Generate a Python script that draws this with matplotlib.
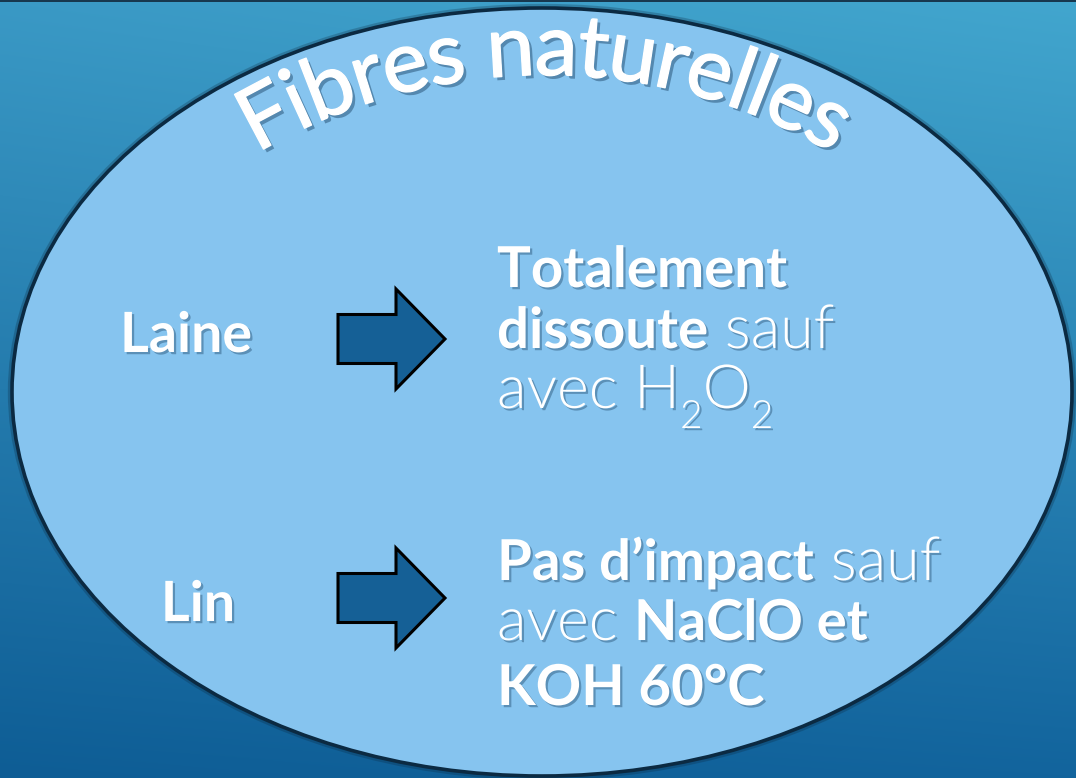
import numpy as np
import matplotlib
matplotlib.use("Agg")
import matplotlib.pyplot as plt
from matplotlib.patches import Ellipse, Polygon, Rectangle
import matplotlib.patheffects as pe
from matplotlib.font_manager import FontProperties, fontManager

# ---------------- content ----------------
title = "Fibres naturelles"
fibres = ["Laine", "Lin"]
laine_desc = [
    [("Totalement", "bold")],
    [("dissoute", "bold"), (" sauf", "light")],
    [("avec H", "light"), ("2", "sub"), ("O", "light"), ("2", "sub")],
]
lin_desc = [
    [("Pas d\u2019impact", "bold"), (" sauf", "light")],
    [("avec ", "light"), ("NaClO et", "bold")],
    [("KOH 60\u00b0C", "bold")],
]

# ---------------- setup ----------------
W, H, DPI = 1076, 778, 100
names = {f.name for f in fontManager.ttflist}
FAM = "Lato" if "Lato" in names else "DejaVu Sans"
def _w(f):
    try:
        return int(f.weight)
    except Exception:
        return 400
light_ws = sorted({_w(f) for f in fontManager.ttflist if f.name == FAM})
LIGHT = 300 if 300 in light_ws else min([w for w in light_ws if w >= 200] or [400])

fig = plt.figure(figsize=(W / DPI, H / DPI), dpi=DPI)
ax = fig.add_axes([0, 0, 1, 1])
ax.set_xlim(0, W)
ax.set_ylim(H, 0)
ax.axis("off")
renderer = fig.canvas.get_renderer()

def fprop(style, size):
    if style == "bold":
        return FontProperties(family=FAM, weight="bold", size=size)
    if style == "title":
        return FontProperties(family=FAM, weight="normal", size=size)
    return FontProperties(family=FAM, weight=LIGHT, size=size)

def measure(s, fp):
    a = renderer.get_text_width_height_descent("|" + s + "|", fp, ismath=False)[0]
    b = renderer.get_text_width_height_descent("||", fp, ismath=False)[0]
    return a - b

def fit_size(s, style, target):
    return 100 * target / measure(s, fprop(style, 100))

shadow = [pe.withSimplePatchShadow(offset=(1.6, -1.6), shadow_rgbFace="#0b2f4f", alpha=0.35)]

# ---------------- background gradient ----------------
tl, tr = np.array([58, 153, 197]), np.array([66, 166, 206])
bl, br = np.array([14, 93, 149]), np.array([18, 100, 157])
ny, nx = 200, 200
yy, xx = np.mgrid[0:1:ny * 1j, 0:1:nx * 1j]
grad = ((1 - yy)[..., None] * ((1 - xx)[..., None] * tl + xx[..., None] * tr)
        + yy[..., None] * ((1 - xx)[..., None] * bl + xx[..., None] * br)) / 255
ax.imshow(grad, extent=(0, W, H, 0), aspect="auto", interpolation="bilinear", zorder=0)
ax.add_patch(Rectangle((0, 0), W, 2, fc="#17384f", ec="none", zorder=1))

# ---------------- ellipse ----------------
ax.add_patch(Ellipse((542, 392), 1060, 768, fc="none", ec="#0a2236", lw=6, alpha=0.25, zorder=1))
ax.add_patch(Ellipse((542, 392), 1060, 768, fc="#86C4EF", ec="#0b2a42", lw=2.6, zorder=2))

# ---------------- curved title ----------------
TS = fit_size(title, "title", 625)
fpt = fprop("title", TS)
total = measure(title, fpt)
cx, cy, R = 545, 645, 570
xh = 0.5 * TS * DPI / 72
Rmid = R + xh / 2
title_fx = [pe.withSimplePatchShadow(offset=(2.4, -2.4), shadow_rgbFace="#0b2f4f", alpha=0.4),
            pe.withStroke(linewidth=1.0, foreground="white")]
for i, ch in enumerate(title):
    if ch == " ":
        continue
    left = measure(title[:i], fpt)
    right = measure(title[:i + 1], fpt)
    s = (left + right) / 2 - total / 2
    phi = s / Rmid
    x = cx + R * np.sin(phi)
    y = cy - R * np.cos(phi)
    ax.text(x, y, ch, fontproperties=fpt, color="white", ha="center", va="baseline",
            rotation=-np.degrees(phi), rotation_mode="anchor", zorder=5,
            path_effects=title_fx)

# ---------------- left labels ----------------
LS = fit_size("Laine", "bold", 132)
label_pos = [(186, 352), (198, 621)]
for lab, (x, y) in zip(fibres, label_pos):
    ax.text(x, y, lab, fontproperties=fprop("bold", LS), color="white", ha="center",
            va="baseline", zorder=5, path_effects=shadow)

# ---------------- arrows ----------------
def block_arrow(x0, x1, x2, yc, body_h, head_h):
    pts = [(x0, yc - body_h / 2), (x1, yc - body_h / 2), (x1, yc - head_h / 2), (x2, yc),
           (x1, yc + head_h / 2), (x1, yc + body_h / 2), (x0, yc + body_h / 2)]
    ax.add_patch(Polygon(pts, closed=True, fc="#156096", ec="black", lw=2.2, joinstyle="miter", zorder=4))

block_arrow(338, 396, 445, 339, 49, 100)
block_arrow(338, 396, 445, 598, 49, 100)

# ---------------- descriptions ----------------
BS = fit_size("Totalement", "bold", 290)
LTS = BS * 1.08

def draw_lines(lines, x0, baselines):
    for segs, yb in zip(lines, baselines):
        x = x0
        for txt, st in segs:
            if st == "sub":
                fp = fprop("light", LTS * 0.64)
                yy_ = yb + 20
            elif st == "light":
                fp = fprop("light", LTS)
                yy_ = yb
            else:
                fp = fprop(st, BS)
                yy_ = yb
            ax.text(x, yy_, txt, fontproperties=fp, color="white", ha="left", va="baseline",
                    zorder=5, path_effects=shadow)
            x += measure(txt, fp)

draw_lines(laine_desc, 497, [287, 348, 408])
draw_lines(lin_desc, 497, [580, 640, 705])

fig.savefig("out.png", dpi=DPI)
